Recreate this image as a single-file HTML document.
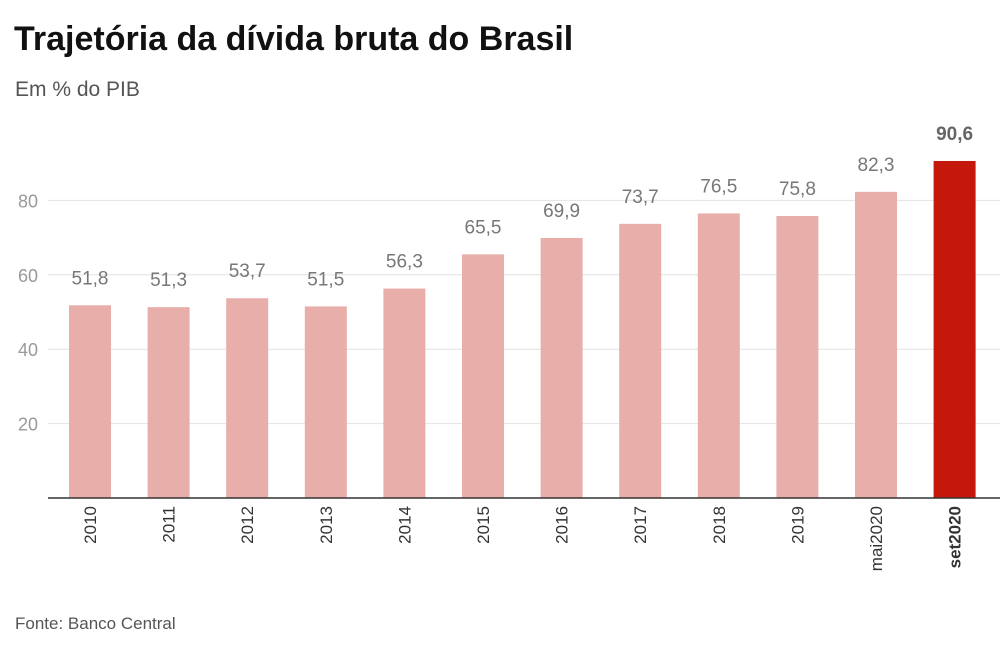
<!DOCTYPE html>
<html><head><meta charset="utf-8"><style>
body{margin:0;background:#fff;font-family:"Liberation Sans",sans-serif;}
#wrap{position:relative;width:1008px;height:662px;overflow:hidden;}
</style></head><body>
<div id="wrap">
<svg id="chart" width="1008" height="662">
<text x="14" y="50" font-size="34" font-weight="bold" fill="#111" letter-spacing="0">Trajetória da dívida bruta do Brasil</text>
<text x="15" y="96" font-size="21" fill="#555">Em % do PIB</text>
<text x="15" y="629" font-size="17" fill="#555">Fonte: Banco Central</text>
</svg>
</div>
<script>
const categories=["2010","2011","2012","2013","2014","2015","2016","2017","2018","2019","mai2020","set2020"];
const values=[51.8,51.3,53.7,51.5,56.3,65.5,69.9,73.7,76.5,75.8,82.3,90.6];
const labels=["51,8","51,3","53,7","51,5","56,3","65,5","69,9","73,7","76,5","75,8","82,3","90,6"];
const ticks=[20,40,60,80];
const NS="http://www.w3.org/2000/svg";
const svg=document.getElementById('chart');
const base=498, pxPer=3.72, x0=90, step=78.6, bw=42;
const y=v=>base-v*pxPer;
const xc=i=>x0+i*step;
function mk(t,a){const e=document.createElementNS(NS,t);for(const k in a)e.setAttribute(k,a[k]);svg.appendChild(e);return e;}
ticks.forEach(t=>{
 const g=mk('line',{x1:48,x2:1000,y1:y(t),y2:y(t),stroke:'#e2e2e2','stroke-width':1});
 
 
 const tl=mk('text',{x:38,y:y(t)+7,'text-anchor':'end','font-size':18,fill:'#999'});
 tl.textContent=t;
 
 
});
categories.forEach((c,i)=>{
 const last=i===categories.length-1;
 const b=mk('rect',{x:xc(i)-bw/2,y:y(values[i]),width:bw,height:values[i]*pxPer,fill:last?'#c4180c':'#e8aeaa'});
 
 
 const v=mk('text',{x:xc(i),y:y(values[i])-21,'text-anchor':'middle','font-size':19,fill:last?'#666':'#777','font-weight':last?'bold':'normal'});
 v.textContent=labels[i];
 
 
 const xl=mk('text',{x:0,y:0,'text-anchor':'end','font-size':17,fill:'#333','font-weight':last?'bold':'normal',transform:`translate(${xc(i)+6},506) rotate(-90)`});
 xl.textContent=c;
 
 
});
const ax=mk('line',{x1:48,x2:1000,y1:base,y2:base,stroke:'#333','stroke-width':1.5});


</script>
</body></html>
